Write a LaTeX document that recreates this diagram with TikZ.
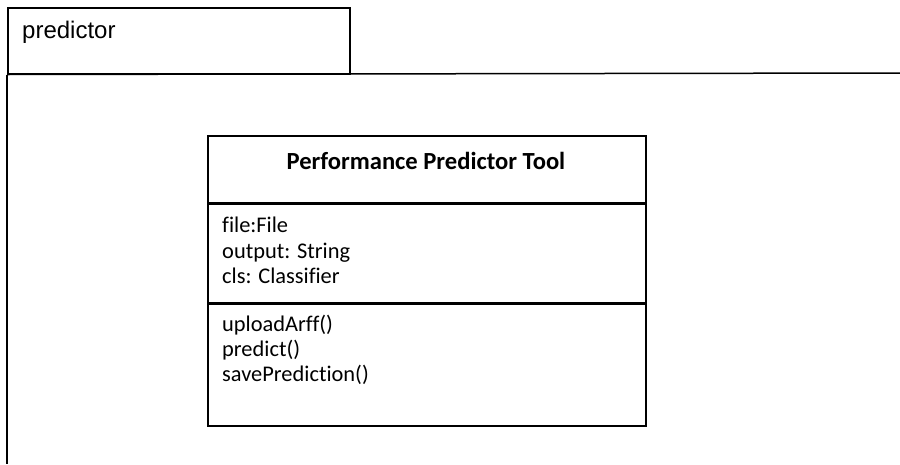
\documentclass[tikz,border=0pt]{standalone}
\usepackage{fontspec}
\setmainfont[Ligatures=NoCommon]{Carlito}
\newfontfamily\pkgfont{Liberation Sans}
\begin{document}
\begin{tikzpicture}[x=1pt,y=-1pt,
	box/.style={draw,rectangle,line width=1.5pt,minimum width=438pt,inner sep=0pt,anchor=north west},
	member/.style={anchor=base west,inner sep=0pt,font=\fontsize{22.4}{26}\selectfont}
	]
	\useasboundingbox (0,0) rectangle (900,464);
	% package tab and frame
	\node[draw,line width=1.5pt,minimum width=342pt,minimum height=66pt,anchor=north west,inner sep=0pt] (tab) at (7,7) {};
	\node[anchor=base west,inner sep=0pt,font=\pkgfont\fontsize{24}{28}\selectfont] (pkgname) at (22,38) {predictor};
	\coordinate (frameright) at (900,73);
	\coordinate (framebottom) at (7,464);
	\draw[line width=1.5pt] (tab.south west) -- (frameright);
	\draw[line width=1.5pt] (tab.south west) -- (framebottom);
	% class
	\node[box,minimum height=67pt] (title) at (207,135) {};
	\node[box,minimum height=98pt] (attrs) at (title.south west) {};
	\node[box,minimum height=122pt] (ops) at (attrs.south west) {};
	\node[anchor=base,inner sep=0pt,font=\bfseries\fontsize{24.6}{28}\selectfont] (name) at (426,169) {Performance Predictor Tool};
	\node[member] (a1) at (222,232) {file:File};
	\node[member] (a2) at (222,258) {output: String};
	\node[member] (a3) at (222,283) {cls: Classifier};
	\node[member] (m1) at (222,331) {uploadArff()};
	\node[member] (m2) at (222,356) {predict()};
	\node[member] (m3) at (222,381) {savePrediction()};
\end{tikzpicture}
\end{document}
